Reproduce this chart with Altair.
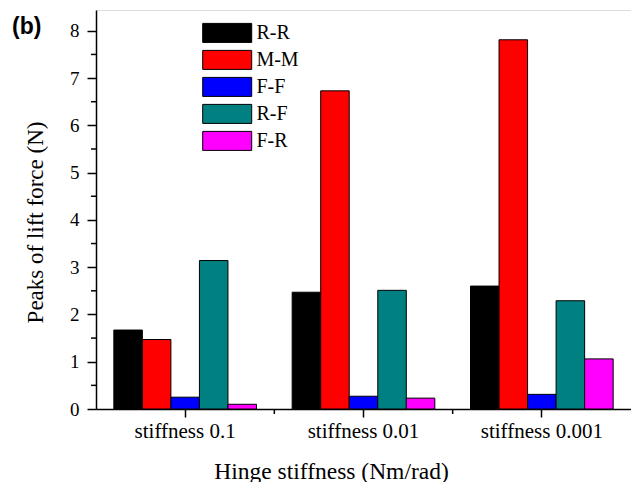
import altair as alt
import pandas as pd

categories = ["stiffness 0.1", "stiffness 0.01", "stiffness 0.001"]
series = ["R-R", "M-M", "F-F", "R-F", "F-R"]
colors = ["#000000", "#FF0000", "#0000FF", "#008080", "#FF00FF"]
rr = [1.67, 2.47, 2.60]
mm = [1.47, 6.73, 7.81]
ff = [0.25, 0.27, 0.31]
rf = [3.14, 2.51, 2.29]
fr = [0.10, 0.23, 1.06]
major_y = [0, 1, 2, 3, 4, 5, 6, 7, 8]
minor_y = [0.5, 1.5, 2.5, 3.5, 4.5, 5.5, 6.5, 7.5]
separators = ["stiffness 0.1", "stiffness 0.01"]  # tick after these groups

rows = []
for s, vals in zip(series, [rr, mm, ff, rf, fr]):
    for c, v in zip(categories, vals):
        rows.append({"cat": c, "series": s, "value": v})
df = pd.DataFrame(rows)

W, H = 535, 399
PAD_IN, PAD_OUT = 0.2, 0.1
step = W / (len(categories) - PAD_IN + 2 * PAD_OUT)

# legend swatch: 49 x 19 px rectangle, laid out with a 29.6 px nominal size
SW_W, SW_H, SW_S = 49.0, 19.0, 29.6
sym_path = "M{a},{b}L{c},{b}L{c},{d}L{a},{d}Z".format(
    a=-SW_W / SW_S, c=SW_W / SW_S, b=-SW_H / SW_S, d=SW_H / SW_S)

SERIF = "Liberation Serif"
xscale = alt.Scale(domain=categories, paddingInner=PAD_IN, paddingOuter=PAD_OUT)
yscale = alt.Scale(domain=[0, 8.44], nice=False, zero=True)

xaxis = alt.Axis(title="Hinge stiffness (Nm/rad)", labelAngle=0,
                 labelFont=SERIF, labelFontSize=21, labelColor="black",
                 labelPadding=3, titleFont=SERIF, titleFontSize=23.5,
                 titleFontWeight="normal", titleColor="black",
                 titleX=235, titleY=62, titleBaseline="middle",
                 domainColor="black", domainWidth=1.5,
                 tickColor="black", tickWidth=1.5, tickSize=8)
yaxis = alt.Axis(title="Peaks of lift force (N)", values=major_y, grid=False,
                 labelFont=SERIF, labelFontSize=19, labelColor="black",
                 labelPadding=8, titleFont=SERIF, titleFontSize=23,
                 titleFontWeight="normal", titleColor="black",
                 titleX=-61, titleY=212, titleBaseline="middle",
                 domainColor="black", domainWidth=1.5,
                 tickColor="black", tickWidth=1.5, tickSize=9)

bars = alt.Chart(df).mark_bar(stroke="black", strokeWidth=1).encode(
    x=alt.X("cat:N", scale=xscale, sort=categories, axis=xaxis),
    xOffset=alt.XOffset("series:N", sort=series,
                        scale=alt.Scale(domain=series, paddingInner=0, paddingOuter=0)),
    y=alt.Y("value:Q", scale=yscale, axis=yaxis),
    color=alt.Color("series:N", sort=series,
                    scale=alt.Scale(domain=series, range=colors),
                    legend=alt.Legend(title=None, orient="none",
                                      legendX=106 + SW_W / 2 - SW_S / 2, legendY=7.4,
                                      symbolType=sym_path,
                                      symbolSize=SW_S * SW_S, symbolStrokeColor="black",
                                      symbolStrokeWidth=1, symbolOpacity=1,
                                      labelFont=SERIF, labelFontSize=20, labelColor="black",
                                      labelOffset=SW_W / 2 - SW_S / 2 + 4,
                                      rowPadding=0, padding=0)),
)

minor_ticks_y = alt.Chart(pd.DataFrame({"v": minor_y})).mark_rule(
    color="black", strokeWidth=1.5).encode(
    y=alt.Y("v:Q", scale=yscale, axis=yaxis),
    x=alt.value(-5), x2=alt.value(0),
)

minor_ticks_x = alt.Chart(pd.DataFrame({"cat": separators})).mark_rule(
    color="black", strokeWidth=1.5, xOffset=step * PAD_IN / 2).encode(
    x=alt.X("cat:N", scale=xscale, sort=categories, bandPosition=1, axis=xaxis),
    y=alt.value(H), y2=alt.value(H + 5),
)

chart = alt.layer(bars, minor_ticks_y, minor_ticks_x).properties(
    width=W, height=H,
    title=alt.TitleParams("(b)", anchor="start", frame="group", font="Liberation Sans",
                          fontSize=23, fontWeight="bold", color="black",
                          dx=-84, dy=29, offset=0, baseline="top"),
    autosize=alt.AutoSizeParams(type="none"),
    padding={"left": 96, "top": 10, "right": 0, "bottom": 73},
).configure_view(strokeWidth=0).configure(background="white")

chart.save("out.html", embed_options={"renderer": "svg", "actions": False})
